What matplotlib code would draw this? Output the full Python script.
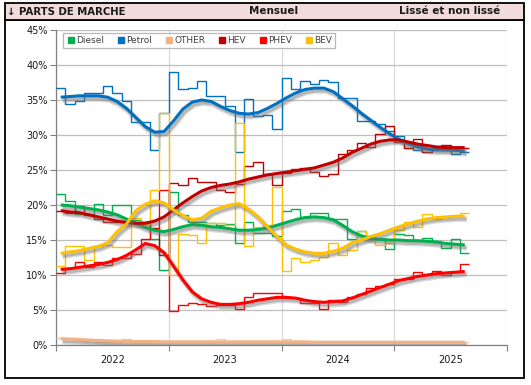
import numpy as np
import matplotlib
matplotlib.use("Agg")
import matplotlib.pyplot as plt
import matplotlib.patheffects as pe
from matplotlib.patches import Rectangle
from matplotlib.lines import Line2D

# monthly market shares (%), Jan 2022 -> Aug 2025
years = ["2022", "2023", "2024", "2025"]
names = ["Diesel", "Petrol", "OTHER", "HEV", "PHEV", "BEV"]

diesel = [21.6, 20.6, 18.7, 18.7, 20.2, 18.6, 20.0, 20.0, 17.8, 17.5,
          15.2, 10.7, 21.8, 18.5, 17.6, 17.5, 17.4, 17.2, 17.3, 14.5,
          17.6, 16.0, 16.0, 15.5, 19.2, 19.4, 18.3, 18.9, 18.9, 18.0,
          18.0, 15.1, 16.3, 15.5, 15.2, 13.7, 15.9, 15.7, 14.9, 15.3,
          14.9, 13.8, 15.2, 13.2]
petrol = [36.7, 34.4, 34.9, 36.0, 36.0, 37.0, 36.0, 34.9, 31.9, 31.9,
          27.9, 33.1, 39.0, 36.5, 36.7, 37.7, 35.5, 35.5, 34.1, 27.5,
          35.1, 32.7, 32.8, 30.9, 38.2, 36.5, 37.7, 37.3, 37.8, 37.6,
          35.3, 35.3, 32.0, 32.0, 31.6, 30.5, 29.9, 28.1, 27.9, 27.5,
          27.9, 27.9, 27.3, 27.5]
other = [1.0, 0.9, 0.7, 0.6, 0.5, 0.5, 0.5, 0.8, 0.5, 0.5,
         0.6, 0.4, 0.4, 0.4, 0.4, 0.4, 0.4, 0.8, 0.4, 0.4,
         0.4, 0.4, 0.4, 0.4, 0.8, 0.4, 0.4, 0.4, 0.4, 0.4,
         0.4, 0.4, 0.4, 0.4, 0.4, 0.4, 0.4, 0.4, 0.4, 0.4,
         0.4, 0.4, 0.4, 0.4]
hev = [19.2, 18.9, 19.9, 18.6, 18.0, 17.5, 17.6, 17.5, 17.4, 17.3,
       16.7, 12.9, 23.2, 22.9, 23.8, 23.3, 23.3, 22.2, 21.8, 23.0,
       25.6, 26.2, 24.4, 22.9, 24.5, 25.1, 25.3, 24.7, 24.2, 24.4,
       27.3, 27.9, 28.9, 28.3, 30.1, 31.3, 29.0, 28.2, 29.4, 27.6,
       28.2, 28.5, 28.0, 28.2]
phev = [10.3, 11.0, 11.9, 11.1, 11.9, 11.4, 12.4, 12.4, 13.0, 15.2,
        16.6, 22.1, 4.9, 5.7, 5.95, 5.8, 5.6, 5.7, 5.7, 5.2,
        6.8, 7.4, 7.4, 7.4, 6.8, 6.7, 6.05, 6.05, 5.1, 6.5,
        6.2, 6.8, 7.3, 8.2, 8.4, 8.7, 9.4, 9.4, 10.4, 10.0,
        10.6, 10.0, 10.4, 11.6]
bev = [11.3, 14.2, 14.2, 12.2, 14.1, 14.3, 14.0, 14.0, 18.2, 17.3,
       22.2, 33.1, 10.0, 15.8, 15.7, 14.6, 17.4, 17.4, 17.2, 31.7,
       14.1, 16.9, 17.1, 22.5, 10.6, 12.5, 11.9, 12.1, 12.6, 14.5,
       12.9, 13.6, 16.3, 15.5, 14.3, 14.6, 16.4, 17.6, 16.8, 18.7,
       18.0, 18.3, 18.4, 18.9]

# smoothed series ("lissé")
diesel_s = [20.0, 19.9, 19.7, 19.5, 19.3, 19.0, 18.6, 18.0, 17.4, 16.8,
            16.4, 16.2, 16.5, 16.9, 17.2, 17.1, 16.9, 16.8, 16.6, 16.4,
            16.4, 16.5, 16.7, 17.1, 17.5, 17.9, 18.2, 18.3, 18.2, 17.9,
            17.1, 16.2, 15.6, 15.2, 15.1, 15.0, 15.0, 14.9, 14.9, 14.8,
            14.7, 14.5, 14.4, 14.3]
petrol_s = [35.4, 35.5, 35.6, 35.6, 35.6, 35.4, 34.8, 33.8, 32.5, 31.2,
            30.4, 30.5, 32.0, 33.7, 34.7, 35.0, 34.8, 34.1, 33.5, 33.1,
            33.0, 33.2, 33.8, 34.5, 35.3, 36.0, 36.5, 36.7, 36.7, 36.2,
            35.2, 34.2, 33.1, 32.1, 31.1, 30.2, 29.4, 28.8, 28.3, 28.0,
            27.9, 27.9, 27.8, 27.7]
other_s = [0.9, 0.85, 0.8, 0.7, 0.65, 0.6, 0.55, 0.55, 0.5, 0.5,
           0.5, 0.45, 0.45, 0.45, 0.45, 0.45, 0.45, 0.45, 0.45, 0.45,
           0.45, 0.45, 0.45, 0.45, 0.45, 0.45, 0.45, 0.4, 0.4, 0.4,
           0.4, 0.4, 0.4, 0.4, 0.4, 0.4, 0.4, 0.4, 0.4, 0.4,
           0.4, 0.4, 0.4, 0.4]
hev_s = [19.2, 19.0, 18.9, 18.6, 18.3, 18.0, 17.7, 17.5, 17.4, 17.4,
         17.7, 18.3, 19.3, 20.3, 21.2, 22.0, 22.5, 22.8, 23.0, 23.3,
         23.7, 24.0, 24.3, 24.5, 24.7, 24.9, 25.1, 25.3, 25.7, 26.1,
         26.7, 27.5, 28.1, 28.7, 29.1, 29.3, 29.3, 29.0, 28.7, 28.5,
         28.3, 28.2, 28.2, 28.2]
phev_s = [10.8, 10.9, 11.1, 11.3, 11.5, 11.8, 12.2, 12.8, 13.6, 14.5,
          14.2, 13.2, 11.3, 9.3, 7.6, 6.6, 6.1, 5.8, 5.8, 5.9,
          6.1, 6.4, 6.6, 6.8, 6.8, 6.7, 6.4, 6.2, 6.1, 6.2,
          6.3, 6.7, 7.2, 7.7, 8.2, 8.7, 9.2, 9.5, 9.8, 10.0,
          10.2, 10.3, 10.4, 10.5]
bev_s = [13.1, 13.3, 13.5, 13.8, 14.1, 14.6, 16.2, 17.3, 19.2, 20.1,
         20.6, 20.3, 19.3, 18.5, 17.9, 18.1, 19.1, 19.6, 20.0, 20.2,
         19.4, 18.3, 16.9, 15.5, 14.3, 13.7, 13.3, 13.1, 13.1, 13.4,
         13.8, 14.6, 15.0, 15.5, 15.9, 16.4, 16.9, 17.3, 17.7, 18.0,
         18.2, 18.3, 18.4, 18.4]

monthly = [diesel, petrol, other, hev, phev, bev]
smooth = [diesel_s, petrol_s, other_s, hev_s, phev_s, bev_s]
colors = ["#00B050", "#0070C0", "#F8CBAD", "#C00000", "#FF0000", "#FFC000"]
smooth_colors = ["#00B050", "#0070C0", "#F4B183", "#C00000", "#FF0000", "#FFC000"]

W, H = 531, 385
fig = plt.figure(figsize=(W / 100, H / 100), dpi=100)


def box(x0, y0, x1, y1, **kw):
    # pixel coords from the top-left corner
    r = Rectangle((x0 / W, 1 - y1 / H), (x1 - x0) / W, (y1 - y0) / H,
                  transform=fig.transFigure, **kw)
    fig.add_artist(r)


box(4.5, 20, 524, 378, facecolor="none", edgecolor="black", lw=1.3, zorder=0)
box(4.5, 3, 524, 20, facecolor="#F2DCDB", edgecolor="black", lw=1.3, zorder=0)
fig.text(7 / W, 1 - 11.5 / H, "\u2193 PARTS DE MARCHE", fontsize=7.3,
         fontweight="bold", va="center", ha="left", color="#1a1a1a")
fig.text(274 / W, 1 - 11.5 / H, "Mensuel", fontsize=7.5,
         fontweight="bold", va="center", ha="center", color="#1a1a1a")
fig.text(450 / W, 1 - 11.5 / H, "Lissé et non lissé", fontsize=7.5,
         fontweight="bold", va="center", ha="center", color="#1a1a1a")

ax = fig.add_axes([56 / W, 40 / H, 451 / W, 315 / H])

n = len(diesel)
edges = np.arange(n + 1)
centers = np.arange(n) + 0.5

for vals, c in zip(monthly, colors):
    ax.stairs(vals, edges, baseline=None, color=c, lw=1.0, zorder=3)

shadow = [pe.SimpleLineShadow(offset=(1.4, -2.0), shadow_color="#707070",
                              alpha=0.25, rho=1.0, linewidth=4.2),
          pe.SimpleLineShadow(offset=(1.4, -2.0), shadow_color="#707070",
                              alpha=0.35, rho=1.0),
          pe.Normal()]
for vals, c in zip(smooth, smooth_colors):
    ax.plot(centers, vals, color=c, lw=2.2, zorder=4, solid_capstyle="butt",
            path_effects=shadow)

ax.set_xlim(0, 48)
ax.set_ylim(0, 45)
ax.set_yticks(np.arange(0, 46, 5))
ax.set_yticklabels([f"{v}%" for v in range(0, 46, 5)])
ax.set_xticks([0, 12, 24, 36, 48])
ax.set_xticklabels([])
ax.set_xticks([6, 18, 30, 42], minor=True)
ax.set_xticklabels(years, minor=True)

ax.tick_params(axis="y", length=4, width=0.8, color="#808080", labelsize=7,
               pad=2, labelcolor="#1a1a1a")
ax.tick_params(axis="x", which="major", length=4, width=0.8, color="#808080")
ax.tick_params(axis="x", which="minor", length=0, labelsize=7, pad=7,
               labelcolor="#1a1a1a")

ax.grid(axis="y", color="#BFBFBF", lw=0.9, zorder=0)
ax.grid(axis="x", which="major", color="#D9D9D9", lw=0.9, zorder=0)
for s in ["top", "right"]:
    ax.spines[s].set_visible(False)
for s in ["left", "bottom"]:
    ax.spines[s].set_color("#808080")
    ax.spines[s].set_linewidth(0.9)
ax.set_axisbelow(True)

handles = [Line2D([], [], marker="s", ls="", color=c, markersize=4.5)
           for c in smooth_colors]
leg = ax.legend(handles, names, loc="upper left", ncol=6,
                bbox_to_anchor=(7 / 451, 1 - 3 / 315), fontsize=6.5,
                frameon=True, fancybox=False, edgecolor="#A6A6A6",
                handletextpad=0.1, columnspacing=1.35, borderpad=0.35,
                handlelength=1.0, borderaxespad=0)
leg.get_frame().set_linewidth(0.9)
for t in leg.get_texts():
    t.set_color("#404040")

fig.savefig("out.png", dpi=100)
